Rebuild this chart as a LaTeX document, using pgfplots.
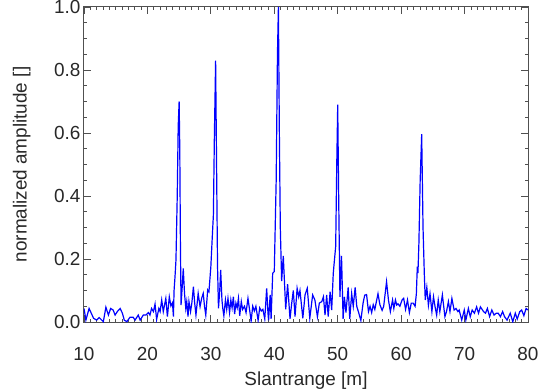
\documentclass[border=0pt]{standalone}
\usepackage{fontspec}
\setmainfont{Liberation Sans}
\usepackage{pgfplots}
\pgfplotsset{compat=1.18}
\definecolor{txt}{RGB}{40,40,40}
\definecolor{frame}{RGB}{80,80,80}
\begin{document}
\begin{tikzpicture}
\begin{axis}[
  scale only axis,
  width=444bp, height=315bp,
  xmin=10, xmax=80, ymin=0, ymax=1.0,
  xtick={10,20,30,40,50,60,70,80},
  ytick={0,0.2,0.4,0.6,0.8,1.0},
  yticklabels={0.0,0.2,0.4,0.6,0.8,1.0},
  minor x tick num=9,
  minor y tick num=3,
  tick align=inside,
  major tick length=7bp,
  minor tick length=3.5bp,
  axis line style={frame, line width=1bp},
  every tick/.style={frame, line width=0.8bp},
  /pgf/number format/assume math mode=true,
  tick label style={font=\fontsize{19}{22}\selectfont, text=txt},
  xticklabel style={yshift=-22bp},
  label style={font=\fontsize{19}{22}\selectfont, text=txt},
  xlabel={Slantrange [m]},
  ylabel={normalized amplitude []},
  xlabel style={at={(axis description cs:0.5,-0.186)}, anchor=center},
  ylabel style={at={(axis description cs:-0.14,0.5)}, anchor=center},
  clip=true,
]
\addplot[blue, line width=1.2bp, no marks] coordinates {
(10.0,0.043)(10.3,0.006)(10.8,0.043)(11.1,0.030)(11.5,0.012)(12.0,0.006)(12.4,0.014)(12.8,0.006)(13.05,0.001)(13.45,0.047)(13.85,0.022)(14.2,0.043)(14.6,0.038)(14.9,0.022)(15.25,0.033)(15.7,0.043)(16.05,0.028)(16.35,0.006)(16.75,0.001)(17.25,0.015)(17.75,0.015)(18.05,0.006)(18.55,0.022)(18.85,0.006)(19.35,0.022)(19.75,0.022)(20.15,0.030)(20.4,0.022)(20.65,0.043)(20.95,0.033)(21.2,0.057)(21.45,0.008)(21.8,0.043)(22.0,0.033)(22.25,0.070)(22.5,0.033)(22.9,0.075)(23.15,0.017)(23.45,0.080)(23.7,0.051)(23.95,0.061)(24.1,0.017)(24.2,0.100)(24.35,0.144)(24.5,0.197)(24.7,0.40)(24.85,0.62)(25.0,0.70)(25.1,0.55)(25.2,0.25)(25.3,0.054)(25.45,0.10)(25.65,0.17)(25.85,0.09)(26.05,0.043)(26.2,0.065)(26.4,0.017)(26.55,0.065)(26.8,0.033)(27.0,0.06)(27.25,0.112)(27.45,0.06)(27.65,0.022)(28.0,0.091)(28.3,0.049)(28.55,0.075)(28.8,0.091)(29.0,0.05)(29.2,0.022)(29.5,0.102)(29.7,0.096)(30.0,0.176)(30.2,0.26)(30.4,0.34)(30.55,0.58)(30.75,0.83)(30.9,0.50)(31.05,0.18)(31.2,0.043)(31.4,0.10)(31.55,0.165)(31.75,0.07)(31.9,0.04)(32.05,0.02)(32.3,0.07)(32.5,0.04)(32.7,0.075)(32.95,0.03)(33.15,0.07)(33.35,0.045)(33.55,0.08)(33.75,0.025)(33.95,0.06)(34.15,0.045)(34.35,0.075)(34.55,0.02)(34.8,0.065)(35.0,0.04)(35.3,0.05)(35.55,0.03)(35.85,0.075)(36.1,0.04)(36.35,0.003)(36.6,0.05)(36.85,0.035)(37.1,0.05)(37.45,0.005)(37.7,0.045)(37.95,0.035)(38.2,0.04)(38.5,0.01)(38.8,0.107)(39.0,0.03)(39.1,0.005)(39.35,0.086)(39.5,0.01)(39.75,0.155)(40.0,0.16)(40.3,0.45)(40.5,0.85)(40.65,1.0)(40.8,0.6)(40.95,0.30)(41.16,0.13)(41.42,0.21)(41.8,0.04)(42.1,0.12)(42.48,0.01)(42.75,0.06)(43.0,0.10)(43.27,0.017)(43.6,0.107)(43.85,0.08)(44.05,0.10)(44.5,0.012)(44.85,0.086)(45.2,0.107)(45.6,0.012)(46.05,0.086)(46.4,0.07)(46.8,0.017)(47.1,0.06)(47.5,0.065)(47.75,0.08)(48.0,0.022)(48.26,0.086)(48.5,0.017)(48.8,0.096)(49.05,0.038)(49.3,0.155)(49.68,0.24)(49.85,0.50)(50.0,0.69)(50.15,0.40)(50.35,0.08)(50.6,0.21)(50.85,0.01)(51.05,0.08)(51.3,0.03)(51.65,0.11)(51.9,0.01)(52.2,0.09)(52.45,0.05)(52.75,0.11)(53.0,0.05)(53.3,0.03)(53.65,0.005)(54.0,0.06)(54.25,0.085)(54.55,0.087)(54.85,0.033)(55.1,0.05)(55.35,0.03)(55.6,0.055)(55.85,0.04)(56.1,0.065)(56.35,0.09)(56.65,0.055)(57.0,0.037)(57.25,0.05)(57.7,0.128)(58.0,0.07)(58.3,0.033)(58.65,0.07)(58.85,0.043)(59.1,0.07)(59.3,0.054)(59.5,0.058)(59.8,0.05)(60.15,0.07)(60.4,0.075)(60.7,0.04)(61.0,0.07)(61.3,0.03)(61.6,0.06)(61.9,0.06)(62.2,0.05)(62.4,0.09)(62.55,0.176)(62.65,0.155)(62.8,0.25)(63.0,0.45)(63.24,0.596)(63.45,0.30)(63.65,0.155)(63.8,0.07)(64.05,0.11)(64.3,0.053)(64.55,0.09)(64.85,0.033)(65.1,0.08)(65.35,0.048)(65.6,0.022)(65.85,0.07)(66.1,0.033)(66.5,0.086)(66.9,0.017)(67.15,0.033)(67.45,0.065)(67.7,0.033)(68.0,0.075)(68.35,0.038)(68.65,0.043)(68.95,0.033)(69.15,0.038)(69.55,0.006)(69.95,0.038)(70.2,0.006)(70.6,0.043)(70.9,0.017)(71.2,0.038)(71.55,0.028)(71.9,0.048)(72.2,0.028)(72.5,0.048)(73.0,0.033)(73.3,0.028)(73.6,0.043)(73.95,0.017)(74.3,0.038)(74.65,0.022)(75.0,0.028)(75.3,0.028)(75.65,0.017)(76.0,0.033)(76.3,0.017)(76.7,0.006)(77.2,0.028)(77.6,0.001)(78.0,0.028)(78.3,0.009)(78.7,0.033)(79.0,0.038)(79.35,0.020)(79.7,0.043)(80.0,0.038)
};
\end{axis}
\pgfresetboundingbox
\path (current axis.south west) ++(-84bp,-70bp) rectangle ++(548bp,392bp);
\end{tikzpicture}
\end{document}
